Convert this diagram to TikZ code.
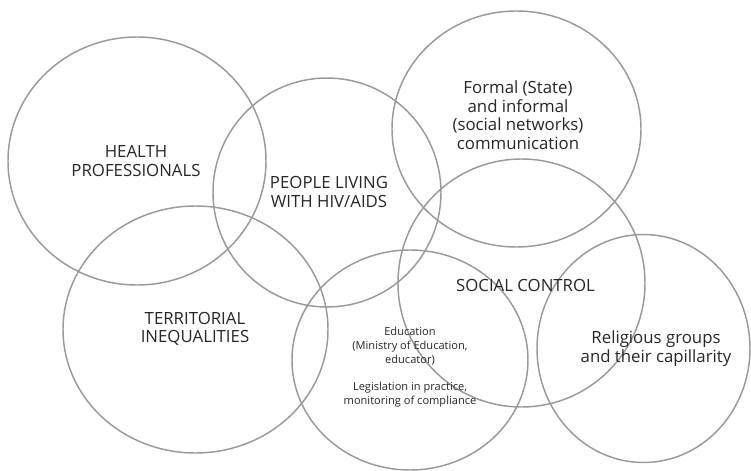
\documentclass[tikz,border=0pt]{standalone}
\usepackage{fontspec}
\setmainfont{Open Sans}
\usetikzlibrary{shapes}
\tikzstyle{ring} = [draw=black!40, line width=1.1pt]
\tikzstyle{label_big} = [align=center, text=black!85, inner sep=0pt, font=\fontsize{12.6}{13.9}\selectfont]
\tikzstyle{label_small} = [align=center, text=black!85, inner sep=0pt, font=\fontsize{8.3}{10.6}\selectfont]

\begin{document}
\begin{tikzpicture}[x=0.75pt, y=-0.75pt]
			\useasboundingbox (0,0) rectangle (751,471);

			% the seven circles
			\coordinate (HP) at (137,161);
			\coordinate (PL) at (327,192.5);
			\coordinate (FC) at (516.5,129);
			\coordinate (SC) at (521.5,283);
			\coordinate (TI) at (195.5,329.5);
			\coordinate (ED) at (410,360);
			\coordinate (RG) at (643.5,348.5);

			\draw[ring] (HP) ellipse [x radius=129, y radius=124];
			\draw[ring] (PL) ellipse [x radius=114, y radius=114.5];
			\draw[ring] (FC) ellipse [x radius=124.5, y radius=118];
			\draw[ring] (SC) ellipse [x radius=123.5, y radius=124];
			\draw[ring] (TI) ellipse [x radius=132.5, y radius=123.5];
			\draw[ring] (ED) ellipse [x radius=118, y radius=110];
			\draw[ring] (RG) ellipse [x radius=106.5, y radius=114];

			% labels
			\node (hp) at (136,161) [label_big] {HEALTH\\PROFESSIONALS};
			\node (pl) at (329,192) [label_big] {PEOPLE LIVING\\WITH HIV/AIDS};
			\node (fc) at (518,115) [label_big] {Formal (State)\\and informal\\(social networks)\\communication};
			\node (ti) at (195,329) [label_big] {TERRITORIAL\\INEQUALITIES};
			\node (sc) at (525.5,285) [label_big] {SOCIAL CONTROL};
			\node (ed) at (410,367) [label_small] {Education\\(Ministry of Education,\\educator)\\[9pt]Legislation in practice,\\monitoring of compliance};
			\node (rg) at (656,348.5) [label_big] {Religious groups\\and their capillarity};
		\end{tikzpicture}
\end{document}
